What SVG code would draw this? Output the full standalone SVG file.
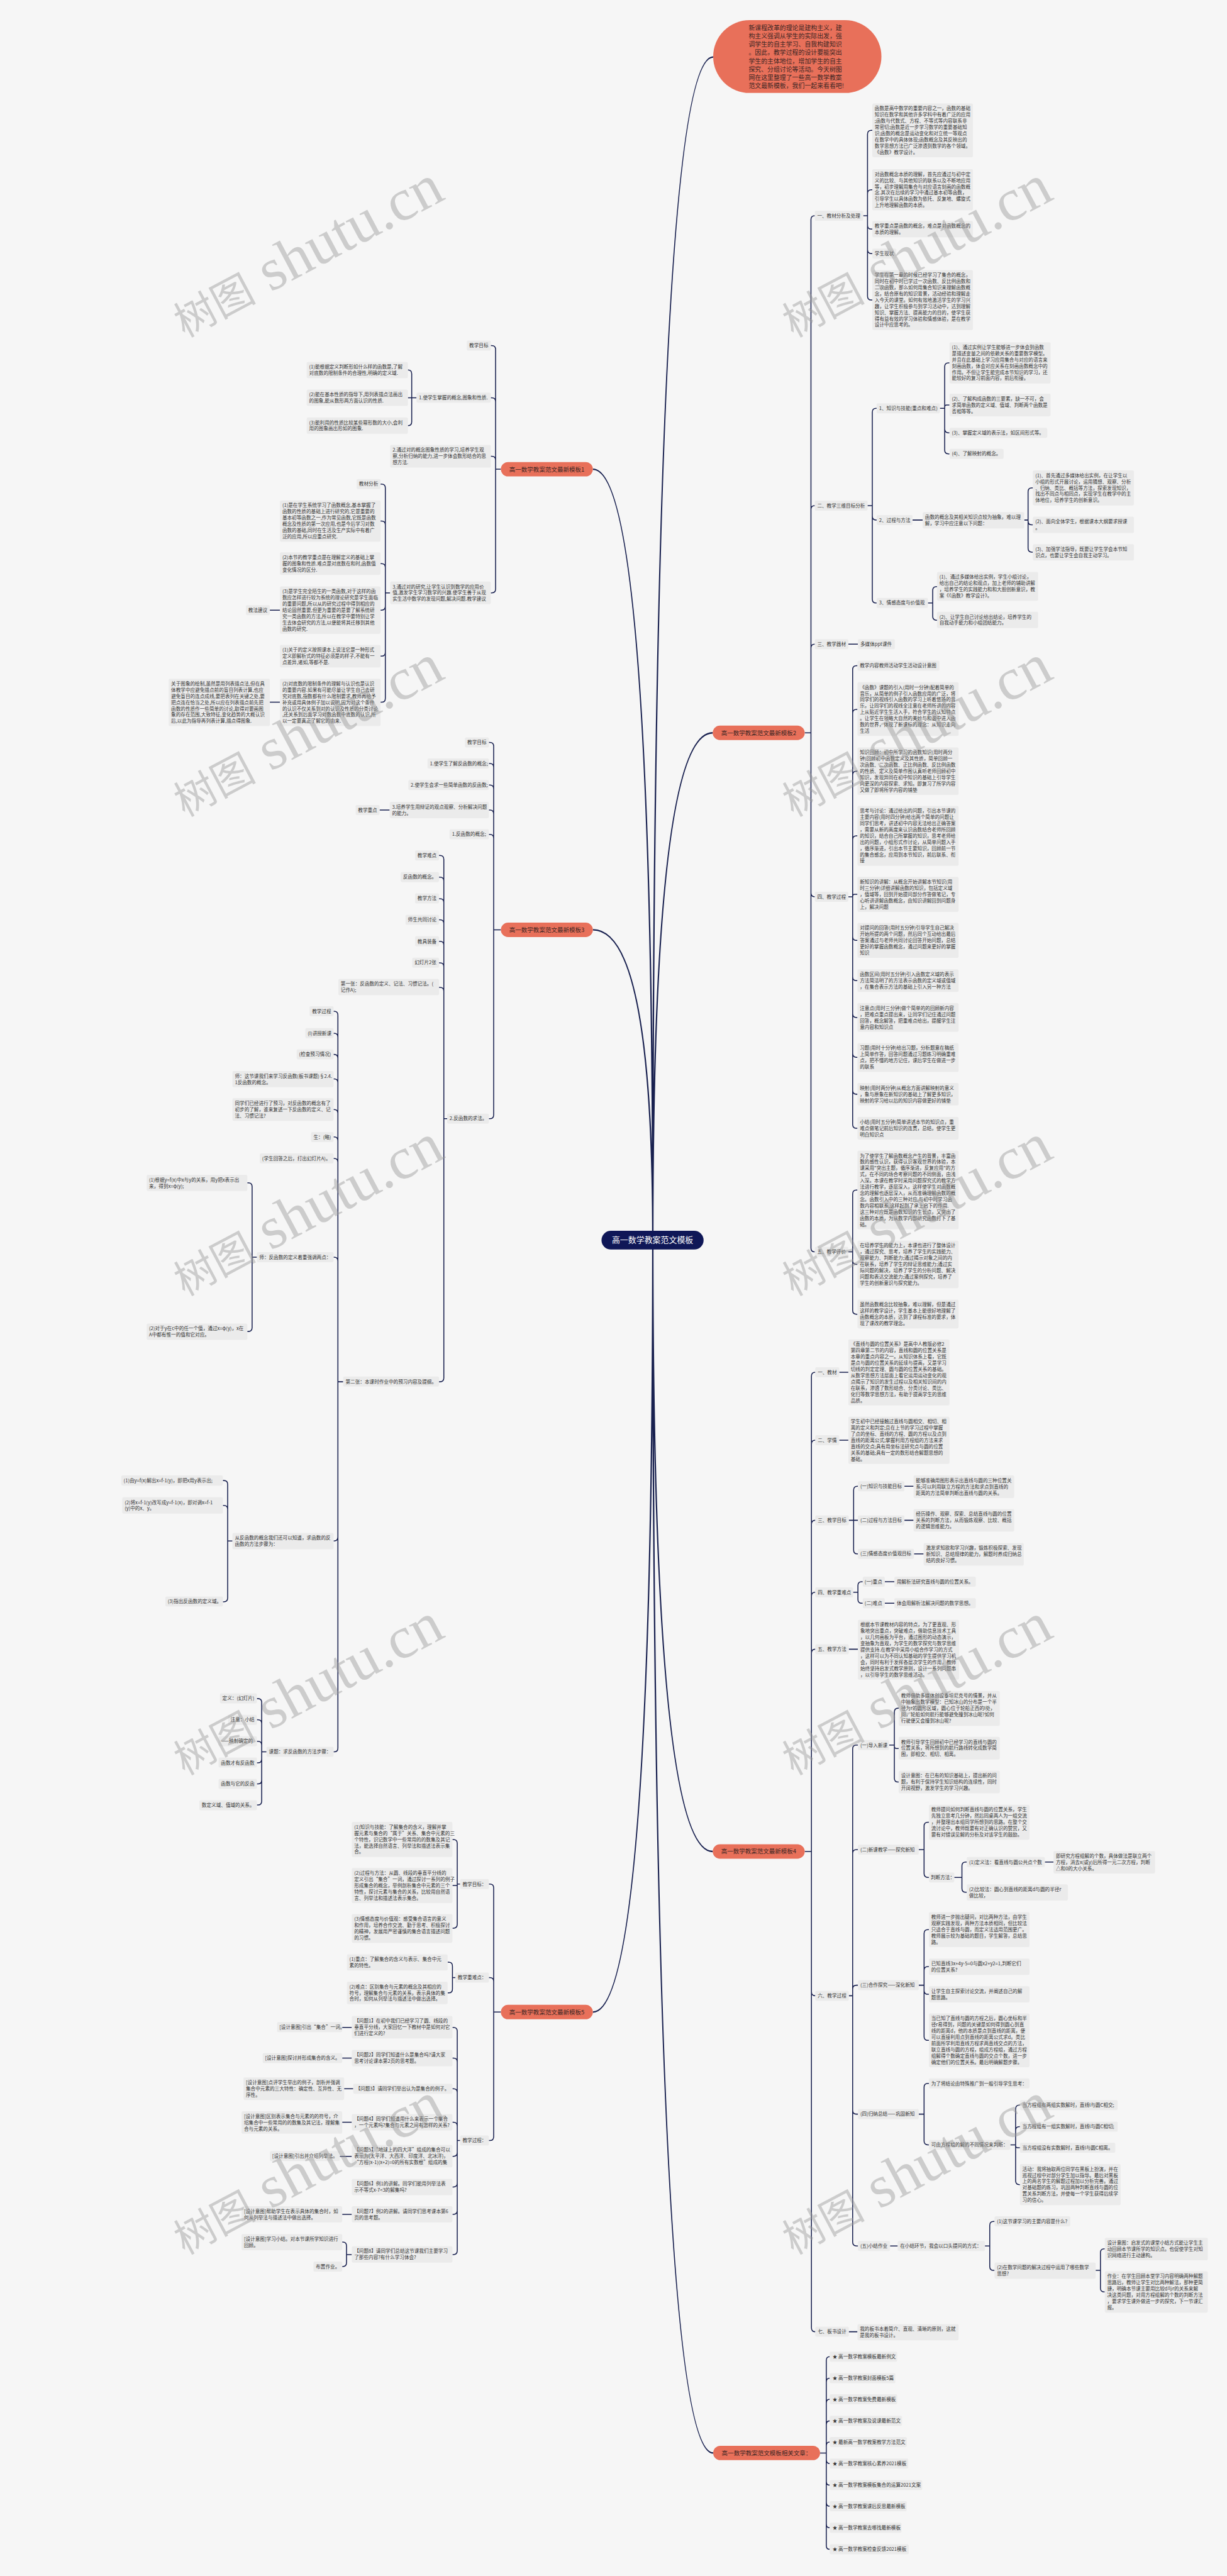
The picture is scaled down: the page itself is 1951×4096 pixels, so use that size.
<svg xmlns="http://www.w3.org/2000/svg" width="1951" height="4096" viewBox="0 0 1951 4096">
<defs><style>
.t{font-family:"Noto Sans CJK SC","Liberation Sans",sans-serif;font-size:10px;fill:#333}
.b{fill:#ebebeb;rx:3px}
.c{fill:none;stroke:#18204f;stroke-width:2}
.m{fill:none;stroke:#18204f;stroke-width:3}
.p{fill:#e8705a}
.pt{font-family:"Noto Sans CJK SC","Liberation Sans",sans-serif;font-size:12.5px;fill:#3b2624;text-anchor:middle}
.w{font-family:"Liberation Serif","Noto Sans CJK SC",serif;fill:#9a9a9a;opacity:0.45}
</style></defs>
<rect width="1951" height="4096" fill="#f6f6f6"/>
<g transform="scale(0.7621)">
<g id="connectors">
<path class="m" d="M1362,2587Q1362,119 1488,119M1362,2587Q1362,979 1237,979M1362,2587Q1362,1529 1487,1529M1362,2587Q1362,1940 1237,1940M1362,2587Q1362,3863 1487,3863M1362,2587Q1362,4198 1237,4198M1362,2587Q1362,5118 1488,5118"/>
<path class="c" d="M1679,1529H1692M1692,1529V458Q1692,450 1700,450M1692,1529V1063Q1692,1055 1700,1055M1692,1529V1352Q1692,1344 1700,1344M1692,1529V1863Q1692,1871 1700,1871M1692,1529V2604Q1692,2612 1700,2612"/>
<path class="c" d="M1801,450H1810M1810,450V280Q1810,272 1818,272H1820M1810,450V404Q1810,396 1818,396H1820M1810,450V470Q1810,478 1818,478H1820M1810,450V521Q1810,529 1818,529H1820M1810,450V618Q1810,626 1818,626H1820"/>
<path class="c" d="M1810,1055H1820M1820,1055V860Q1820,852 1828,852H1829M1820,1055V1077Q1820,1085 1828,1085H1829M1820,1055V1250Q1820,1258 1828,1258H1829"/>
<path class="c" d="M1961,852H1971M1971,852V765Q1971,757 1979,757H1981M1971,852V849Q1971,845 1975,845H1981M1971,852V895Q1971,903 1979,903H1981M1971,852V939Q1971,947 1979,947H1981"/>
<path class="c" d="M1904,1085H1925M2137,1085H2145M2145,1085V1026Q2145,1018 2153,1018H2155M2145,1085V1087Q2145,1095 2153,1095H2155M2145,1085V1144Q2145,1152 2153,1152H2155"/>
<path class="c" d="M1936,1258H1946M1946,1258V1232Q1946,1224 1954,1224H1955M1946,1258V1286Q1946,1294 1954,1294H1955M1770,1344H1790"/>
<path class="c" d="M1770,1871H1779M1779,1871V1397Q1779,1389 1787,1389H1789M1779,1871V1488Q1779,1480 1787,1480H1789M1779,1871V1617Q1779,1609 1787,1609H1789M1779,1871V1752Q1779,1744 1787,1744H1789M1779,1871V1870Q1779,1866 1783,1866H1789M1779,1871V1954Q1779,1962 1787,1962H1789M1779,1871V2038Q1779,2046 1787,2046H1789M1779,1871V2115Q1779,2123 1787,2123H1789M1779,1871V2198Q1779,2206 1787,2206H1789M1779,1871V2275Q1779,2283 1787,2283H1789M1779,1871V2346Q1779,2354 1787,2354H1789"/>
<path class="c" d="M1770,2612H1779M1779,2612V2491Q1779,2483 1787,2483H1789M1779,2612V2630Q1779,2638 1787,2638H1789M1779,2612V2734Q1779,2742 1787,2742H1789"/>
<path class="c" d="M1679,3863H1693M1693,3863V2871Q1693,2863 1701,2863M1693,3863V3013Q1693,3005 1701,3005M1693,3863V3180Q1693,3172 1701,3172M1693,3863V3330Q1693,3322 1701,3322M1693,3863V3449Q1693,3441 1701,3441M1693,3863V4156Q1693,4164 1701,4164M1693,3863V4857Q1693,4865 1701,4865"/>
<path class="c" d="M1751,2863H1770M1751,3005H1770M1771,3172H1790M1781,3172V3109Q1781,3101 1789,3101H1790M1781,3172V3234Q1781,3242 1789,3242H1790M1887,3101H1906M1887,3172H1906M1907,3242H1927"/>
<path class="c" d="M1780,3322H1790M1790,3322V3308Q1790,3300 1798,3300H1800M1790,3322V3337Q1790,3345 1798,3345H1800M1846,3300H1866M1846,3345H1866M1771,3441H1790"/>
<path class="c" d="M1771,4164H1779M1779,4164V3649Q1779,3641 1787,3641H1790M1779,4164V3867Q1779,3859 1787,3859H1790M1779,4164V4150Q1779,4142 1787,4142H1790M1779,4164V4403Q1779,4411 1787,4411H1790M1779,4164V4678Q1779,4686 1787,4686H1790"/>
<path class="c" d="M1855,3641H1866M1866,3641V3572Q1866,3564 1874,3564H1875M1866,3641V3644Q1866,3648 1870,3648H1875M1866,3641V3710Q1866,3718 1874,3718H1875"/>
<path class="c" d="M1917,3859H1928M1928,3859V3810Q1928,3802 1936,3802H1938M1928,3859V3909Q1928,3917 1936,3917H1938M1991,3917H2007M2007,3917V3893Q2007,3885 2015,3885H2017M2007,3917V3940Q2007,3948 2015,3948H2017M2180,3885H2198"/>
<path class="c" d="M1917,4142H1928M1928,4142V4034Q1928,4026 1936,4026H1938M1928,4142V4111Q1928,4103 1936,4103H1938M1928,4142V4153Q1928,4161 1936,4161H1938M1928,4142V4249Q1928,4257 1936,4257H1938"/>
<path class="c" d="M1917,4411H1928M1928,4411V4355Q1928,4347 1936,4347H1938M1928,4411V4467Q1928,4475 1936,4475H1938M2108,4475H2119M2119,4475V4400Q2119,4392 2127,4392H2128M2119,4475V4445Q2119,4437 2127,4437H2128M2119,4475V4477Q2119,4481 2123,4481H2128M2119,4475V4550Q2119,4558 2127,4558H2128"/>
<path class="c" d="M1857,4686H1873M2055,4686H2065M2065,4686V4643Q2065,4635 2073,4635H2075M2065,4686V4729Q2065,4737 2073,4737H2075M2286,4737H2296M2296,4737V4700Q2296,4692 2304,4692H2305M2296,4737V4774Q2296,4782 2304,4782H2305M1771,4865H1789"/>
<path class="c" d="M1711,5118H1724M1724,5118V4925Q1724,4917 1731,4917M1724,5118V4970Q1724,4962 1731,4962M1724,5118V5014Q1724,5006 1731,5006M1724,5118V5059Q1724,5051 1731,5051M1724,5118V5103Q1724,5095 1731,5095M1724,5118V5132Q1724,5140 1731,5140M1724,5118V5177Q1724,5185 1731,5185M1724,5118V5221Q1724,5229 1731,5229M1724,5118V5266Q1724,5274 1731,5274M1724,5118V5311Q1724,5319 1731,5319"/>
<path class="c" d="M1045,979H1034M1034,979V729Q1034,721 1026,721H1024M1034,979V838Q1034,830 1026,830H1024M1034,979V960Q1034,952 1026,952H1024M1034,979V1229Q1034,1237 1026,1237H1024M869,830H851M859,830V780Q859,772 851,772M859,830V880Q859,888 851,888"/>
<path class="c" d="M814,1237H804M804,1237V1018Q804,1010 796,1010H794M804,1237V1095Q804,1087 796,1087H794M804,1237V1184Q804,1176 796,1176H794M804,1237V1265Q804,1273 796,1273H794M804,1237V1361Q804,1369 796,1369H794M804,1237V1457Q804,1465 796,1465H794M584,1273H563M584,1465H563"/>
<path class="c" d="M1045,1940H1030M1030,1940V1557Q1030,1549 1022,1549H1020M1030,1940V1601Q1030,1593 1022,1593H1020M1030,1940V1646Q1030,1638 1022,1638H1020M1030,1940V1698Q1030,1690 1022,1690H1020M1030,1940V1749Q1030,1741 1022,1741H1020M1030,1940V2326Q1030,2334 1022,2334H1020M813,1690H792"/>
<path class="c" d="M933,2334H926M926,2334V1793Q926,1785 918,1785H916M926,2334V1838Q926,1830 918,1830H916M926,2334V1883Q926,1875 918,1875H916M926,2334V1927Q926,1919 918,1919H916M926,2334V1972Q926,1964 918,1964H916M926,2334V2017Q926,2009 918,2009H916M926,2334V2068Q926,2060 918,2060H916M926,2334V2875Q926,2883 918,2883H916"/>
<path class="c" d="M716,2883H705M705,2883V2118Q705,2110 697,2110H696M705,2883V2164Q705,2156 697,2156H696M705,2883V2208Q705,2200 697,2200H696M705,2883V2259Q705,2251 697,2251H696M705,2883V2323Q705,2315 697,2315H696M705,2883V2380Q705,2372 697,2372H696M705,2883V2425Q705,2417 697,2417H696M705,2883V2631Q705,2623 697,2623H696M705,2883V3207Q705,3215 697,3215H696M705,2883V3647Q705,3655 697,3655H696"/>
<path class="c" d="M536,2623H526M526,2623V2476Q526,2468 518,2468H516M526,2623V2770Q526,2778 518,2778H516M485,3215H475M475,3215V3097Q475,3089 467,3089H465M475,3215V3149Q475,3141 467,3141H465M475,3215V3334Q475,3342 467,3342H465"/>
<path class="c" d="M556,3655H546M546,3655V3552Q546,3544 538,3544H536M546,3655V3596Q546,3588 538,3588H536M546,3655V3641Q546,3633 538,3633H536M546,3655V3670Q546,3678 538,3678H536M546,3655V3714Q546,3722 538,3722H536M546,3655V3758Q546,3766 538,3766H536"/>
<path class="c" d="M1045,4198H1030M1030,4198V3939Q1030,3931 1022,3931H1020M1030,4198V4134Q1030,4126 1022,4126H1020M1030,4198V4458Q1030,4466 1022,4466H1020M960,3931H954M954,3931V3846Q954,3838 946,3838H944M954,3931V3934H944M954,3931V4015Q954,4023 946,4023H944M950,4126H944M944,4126V4102Q944,4094 936,4094H934M944,4126V4150Q944,4158 936,4158H934"/>
<path class="c" d="M960,4466H954M954,4466V4238Q954,4230 946,4230H944M954,4466V4302Q954,4294 946,4294H944M954,4466V4366Q954,4358 946,4358H944M954,4466V4436Q954,4428 946,4428H944M954,4466V4491Q954,4499 946,4499H944M954,4466V4555Q954,4563 946,4563H944M954,4466V4612Q954,4620 946,4620H944M954,4466V4696Q954,4704 946,4704H944M734,4230H714M734,4294H714M737,4358H718M734,4428H714M734,4499H709M734,4620H714M734,4704H723M723,4704V4686Q723,4678 715,4678H714M723,4704V4721Q723,4729 715,4729H714"/>
</g>

<g id="center"><rect x="1255" y="2568" width="213" height="39" rx="19.5" fill="#0f1757"/><text x="1361.5" y="2593" font-family="Noto Sans CJK SC, sans-serif" font-size="17" fill="#fff" text-anchor="middle">高一数学教案范文模板</text></g>

<g id="bubble"><rect x="1488" y="42" width="351" height="152" rx="76" class="p"/><text font-family="Noto Sans CJK SC, sans-serif" font-size="13" fill="#3b2624" y="62.4"><tspan x="1562">新课程改革的理论是建构主义，建</tspan><tspan x="1562" dy="17.4">构主义强调从学生的实际出发，强</tspan><tspan x="1562" dy="17.4">调学生的自主学习、自我构建知识</tspan><tspan x="1562" dy="17.4">。因此，教学过程的设计要能突出</tspan><tspan x="1562" dy="17.4">学生的主体地位，增加学生的自主</tspan><tspan x="1562" dy="17.4">探究、分组讨论等活动。今天树图</tspan><tspan x="1562" dy="17.4">网在这里整理了一些高一数学教案</tspan><tspan x="1562" dy="17.4">范文最新模板，我们一起来看看吧!</tspan></text></g>

<g id="branch2"><rect class="p" x="1487" y="1514" width="192" height="30" rx="15"/><text class="pt" x="1583" y="1533.5">高一数学教案范文最新模板2</text></g>
<g id="A1"><rect class="b" x="1700" y="439.5" width="101" height="21"/><text class="t" x="1705" y="453.6">一、教材分析及处理</text></g>
<g id="a1"><rect class="b" x="1820" y="216" width="210" height="112"/><text class="t" y="230.1"><tspan x="1825">函数是高中数学的重要内容之一，函数的基础</tspan><tspan x="1825" dy="13">知识在数学和其他许多学科中有着广泛的应用</tspan><tspan x="1825" dy="13">;函数与代数式、方程、不等式等内容联系非</tspan><tspan x="1825" dy="13">常密切;函数是近一步学习数学的重要基础知</tspan><tspan x="1825" dy="13">识;函数的概念是运动变化和对立统一等观点</tspan><tspan x="1825" dy="13">在数学中的具体体现;函数概念及其反映出的</tspan><tspan x="1825" dy="13">数学思想方法已广泛渗透到数学的各个领域。</tspan><tspan x="1825" dy="13">《函数》教学设计。</tspan></text></g>
<g id="a2"><rect class="b" x="1820" y="353" width="210" height="86"/><text class="t" y="367.1"><tspan x="1825">对函数概念本质的理解，首先应通过与初中定</tspan><tspan x="1825" dy="13">义的比较、与其他知识的联系以及不断地应用</tspan><tspan x="1825" dy="13">等，初步理解用集合与对应语言刻画的函数概</tspan><tspan x="1825" dy="13">念.其次在后续的学习中通过基本初等函数，</tspan><tspan x="1825" dy="13">引导学生以具体函数为依托、反复地、螺旋式</tspan><tspan x="1825" dy="13">上升地理解函数的本质。</tspan></text></g>
<g id="a3"><rect class="b" x="1820" y="461" width="210" height="34"/><text class="t" y="475.1"><tspan x="1825">教学重点是函数的概念，难点是对函数概念的</tspan><tspan x="1825" dy="13">本质的理解。</tspan></text></g>
<g id="a4"><rect class="b" x="1820" y="518.5" width="50" height="21"/><text class="t" x="1825" y="532.6">学生现状</text></g>
<g id="a5"><rect class="b" x="1820" y="563.5" width="210" height="125"/><text class="t" y="577.6"><tspan x="1825">学生在第一章的时候已经学习了集合的概念，</tspan><tspan x="1825" dy="13">同时在初中时已学过一次函数、反比例函数和</tspan><tspan x="1825" dy="13">二次函数，那么如何用集合知识来理解函数概</tspan><tspan x="1825" dy="13">念，结合原有的知识背景，活动经验和理解走</tspan><tspan x="1825" dy="13">入今天的课堂。如何有效地激活学生的学习兴</tspan><tspan x="1825" dy="13">趣，让学生积极参与到学习活动中，达到理解</tspan><tspan x="1825" dy="13">知识、掌握方法、提高能力的目的，使学生获</tspan><tspan x="1825" dy="13">得有益有效的学习体验和情感体验，是在教学</tspan><tspan x="1825" dy="13">设计中应思考的。</tspan></text></g>
<g id="A2"><rect class="b" x="1700" y="1044.5" width="110" height="21"/><text class="t" x="1705" y="1058.6">二、教学三维目标分析</text></g>
<g id="b1"><rect class="b" x="1829" y="841.5" width="132" height="21"/><text class="t" x="1834" y="855.6">1、知识与技能(重点和难点)</text></g>
<g id="b1a"><rect class="b" x="1981" y="714" width="211" height="86"/><text class="t" y="728.1"><tspan x="1986">(1)、通过实例让学生能够进一步体会到函数</tspan><tspan x="1986" dy="13">是描述变量之间的依赖关系的重要数学模型。</tspan><tspan x="1986" dy="13">并且在此基础上学习应用集合与对应的语言来</tspan><tspan x="1986" dy="13">刻画函数，体会对应关系在刻画函数概念中的</tspan><tspan x="1986" dy="13">作用。不但让学生能完成本节知识的学习，还</tspan><tspan x="1986" dy="13">能较好的复习前面内容，前后衔接。</tspan></text></g>
<g id="b1b"><rect class="b" x="1981" y="821.5" width="211" height="47"/><text class="t" y="835.6"><tspan x="1986">(2)、了解构成函数的三要素，缺一不可，会</tspan><tspan x="1986" dy="13">求简单函数的定义域、值域、判断两个函数是</tspan><tspan x="1986" dy="13">否相等等。</tspan></text></g>
<g id="b1c"><rect class="b" x="1981" y="892.5" width="204" height="21"/><text class="t" x="1986" y="906.6">(3)、掌握定义域的表示法，如区间形式等。</text></g>
<g id="b1d"><rect class="b" x="1981" y="936.5" width="113" height="21"/><text class="t" x="1986" y="950.6">(4)、了解映射的概念。</text></g>
<g id="b2"><rect class="b" x="1829" y="1074.5" width="75" height="21"/><text class="t" x="1834" y="1088.6">2、过程与方法</text></g>
<g id="b2x"><rect class="b" x="1925" y="1068.5" width="212" height="34"/><text class="t" y="1082.6"><tspan x="1930">函数的概念及其相关知识点较为抽象，难以理</tspan><tspan x="1930" dy="13">解，学习中应注意以下问题：</tspan></text></g>
<g id="b2a"><rect class="b" x="2155" y="981.5" width="211" height="73"/><text class="t" y="995.6"><tspan x="2160">(1)、首先通过多媒体给出实例，在让学生以</tspan><tspan x="2160" dy="13">小组的形式开展讨论，运用猜想、观察、分析</tspan><tspan x="2160" dy="13">、归纳、类比、概括等方法，探索发现知识，</tspan><tspan x="2160" dy="13">找出不同点与相同点，实现学生在教学中的主</tspan><tspan x="2160" dy="13">体地位，培养学生的创新意识。</tspan></text></g>
<g id="b2b"><rect class="b" x="2155" y="1078" width="211" height="34"/><text class="t" y="1092.1"><tspan x="2160">(2)、面向全体学生，根据课本大纲要求授课</tspan><tspan x="2160" dy="13">。</tspan></text></g>
<g id="b2c"><rect class="b" x="2155" y="1135.5" width="211" height="34"/><text class="t" y="1149.6"><tspan x="2160">(3)、加强学法指导，既要让学生学会本节知</tspan><tspan x="2160" dy="13">识点，也要让学生会自我主动学习。</tspan></text></g>
<g id="b3"><rect class="b" x="1829" y="1247.5" width="107" height="21"/><text class="t" x="1834" y="1261.6">3、情感态度与价值观</text></g>
<g id="b3a"><rect class="b" x="1955" y="1193.5" width="211" height="60"/><text class="t" y="1207.6"><tspan x="1960">(1)、通过多媒体给出实例，学生小组讨论，</tspan><tspan x="1960" dy="13">给出自己的结论和观点，加上老师的辅助讲解</tspan><tspan x="1960" dy="13">，培养学生的实践能力和和大胆创新意识，教</tspan><tspan x="1960" dy="13">案《《函数》教学设计》。</tspan></text></g>
<g id="b3b"><rect class="b" x="1955" y="1276.5" width="211" height="34"/><text class="t" y="1290.6"><tspan x="1960">(2)、让学生自己讨论给出结论，培养学生的</tspan><tspan x="1960" dy="13">自我动手能力和小组团结能力。</tspan></text></g>
<g id="A3"><rect class="b" x="1700" y="1333.5" width="70" height="21"/><text class="t" x="1705" y="1347.6">三、教学器材</text></g>
<g id="A3c"><rect class="b" x="1790" y="1333.5" width="77" height="21"/><text class="t" x="1795" y="1347.6">多媒体ppt课件</text></g>
<g id="A4"><rect class="b" x="1700" y="1860.5" width="70" height="21"/><text class="t" x="1705" y="1874.6">四、教学过程</text></g>
<g id="c1"><rect class="b" x="1789" y="1378.5" width="171" height="21"/><text class="t" x="1794" y="1392.6">教学内容教师活动学生活动设计意图</text></g>
<g id="c2"><rect class="b" x="1789" y="1423.5" width="211" height="112"/><text class="t" y="1437.6"><tspan x="1794">《函数》课题的引入(用时一分钟)配着简单的</tspan><tspan x="1794" dy="13">音乐，从简单的例子引入函数应用的广泛，将</tspan><tspan x="1794" dy="13">同学们的视线引入函数的学习上听着悠扬的音</tspan><tspan x="1794" dy="13">乐，让同学们的视线全注意在老师所讲的内容</tspan><tspan x="1794" dy="13">上从贴近学生生活入手，符合学生的认知特点</tspan><tspan x="1794" dy="13">。让学生在领略大自然的美妙与和谐中进入函</tspan><tspan x="1794" dy="13">数的世界，体现了新课标的理念：从知识走向</tspan><tspan x="1794" dy="13">生活</tspan></text></g>
<g id="c3"><rect class="b" x="1789" y="1559.5" width="211" height="99"/><text class="t" y="1573.6"><tspan x="1794">知识回顾：初中所学习的函数知识(用时两分</tspan><tspan x="1794" dy="13">钟)回顾初中函数定义及其性质，简单回顾一</tspan><tspan x="1794" dy="13">次函数、二次函数、正比例函数、反比例函数</tspan><tspan x="1794" dy="13">的性质、定义及简单作图认真听老师回顾初中</tspan><tspan x="1794" dy="13">知识，发现异同在初中知识的基础上引导学生</tspan><tspan x="1794" dy="13">向更深的内容探索、求知。即复习了所学内容</tspan><tspan x="1794" dy="13">又做了即将所学内容的铺垫</tspan></text></g>
<g id="c4"><rect class="b" x="1789" y="1681.5" width="211" height="125"/><text class="t" y="1695.6"><tspan x="1794">思考与讨论：通过给出的问题，引出本节课的</tspan><tspan x="1794" dy="13">主要内容(用时四分钟)给出两个简单的问题让</tspan><tspan x="1794" dy="13">同学们思考，讲述初中内容无法给出正确答案</tspan><tspan x="1794" dy="13">，需要从新的高度来认识函数结合老师所回顾</tspan><tspan x="1794" dy="13">的知识，结合自己所掌握的知识，思考老师给</tspan><tspan x="1794" dy="13">出的问题，小组形式作讨论，从简单问题入手</tspan><tspan x="1794" dy="13">，循序渐进，引出本节主要知识，回顾前一节</tspan><tspan x="1794" dy="13">的集合感念，应用到本节知识，前后联系、衔</tspan><tspan x="1794" dy="13">接</tspan></text></g>
<g id="c5"><rect class="b" x="1789" y="1829.5" width="211" height="73"/><text class="t" y="1843.6"><tspan x="1794">新知识的讲解：从概念开始讲解本节知识(用</tspan><tspan x="1794" dy="13">时三分钟)详细讲解函数的知识，包括定义域</tspan><tspan x="1794" dy="13">，值域等，回到开始提问部分作答做笔记，专</tspan><tspan x="1794" dy="13">心听讲讲解函数概念，由知识讲解回到问题身</tspan><tspan x="1794" dy="13">上，解决问题</tspan></text></g>
<g id="c6"><rect class="b" x="1789" y="1925.5" width="211" height="73"/><text class="t" y="1939.6"><tspan x="1794">对提问的回答(用时五分钟)引导学生自己解决</tspan><tspan x="1794" dy="13">开始所提的两个问题，然后同个互动给出最后</tspan><tspan x="1794" dy="13">答案通过与老师共同讨论回答开始问题，总结</tspan><tspan x="1794" dy="13">更好的掌握函数概念，通过问题来更好的掌握</tspan><tspan x="1794" dy="13">知识</tspan></text></g>
<g id="c7"><rect class="b" x="1789" y="2022.5" width="211" height="47"/><text class="t" y="2036.6"><tspan x="1794">函数区间(用时五分钟)引入函数定义域的表示</tspan><tspan x="1794" dy="13">方法简洁明了的方法表示函数的定义域或值域</tspan><tspan x="1794" dy="13">，在集合表示方法的基础上引入另一种方法</tspan></text></g>
<g id="c8"><rect class="b" x="1789" y="2093" width="211" height="60"/><text class="t" y="2107.1"><tspan x="1794">注意点(用时三分钟)做个简单的的回顾新内容</tspan><tspan x="1794" dy="13">，把难点重点提出来，让同学们记住通过问题</tspan><tspan x="1794" dy="13">回答，概念解答，把重难点给出，提醒学生注</tspan><tspan x="1794" dy="13">意内容和知识点</tspan></text></g>
<g id="c9"><rect class="b" x="1789" y="2176.5" width="211" height="60"/><text class="t" y="2190.6"><tspan x="1794">习题(用时十分钟)给出习题，分析题意在稿纸</tspan><tspan x="1794" dy="13">上简单作答，回答问题通过习题练习明确重难</tspan><tspan x="1794" dy="13">点，把不懂的地方记住，课后学生在做进一步</tspan><tspan x="1794" dy="13">的联系</tspan></text></g>
<g id="c10"><rect class="b" x="1789" y="2259.5" width="211" height="47"/><text class="t" y="2273.6"><tspan x="1794">映射(用时两分钟)从概念方面讲解映射的意义</tspan><tspan x="1794" dy="13">，象与原象在新知识的基础上了解更多知识，</tspan><tspan x="1794" dy="13">映射的学习给以后的知识内容做更好的铺垫</tspan></text></g>
<g id="c11"><rect class="b" x="1789" y="2330.5" width="211" height="47"/><text class="t" y="2344.6"><tspan x="1794">小结(用时五分钟)简单讲述本节的知识点，重</tspan><tspan x="1794" dy="13">难点做笔记前后知识的连贯，总结，使学生更</tspan><tspan x="1794" dy="13">明白知识点</tspan></text></g>
<g id="A5"><rect class="b" x="1700" y="2601.5" width="70" height="21"/><text class="t" x="1705" y="2615.6">五、教学评价</text></g>
<g id="d1"><rect class="b" x="1789" y="2401" width="211" height="164"/><text class="t" y="2415.1"><tspan x="1794">为了使学生了解函数概念产生的背景，丰富函</tspan><tspan x="1794" dy="13">数的感性认识，获得认识客观世界的体验，本</tspan><tspan x="1794" dy="13">课采用"突出主题，循序渐进，反复应用"的方</tspan><tspan x="1794" dy="13">式，在不同的场合考察问题的不同侧面，由浅</tspan><tspan x="1794" dy="13">入深。本课在教学时采用问题探究式的教学方</tspan><tspan x="1794" dy="13">法进行教学，逐层深入，这样使学生对函数概</tspan><tspan x="1794" dy="13">念的理解也逐层深入，从而准确理解函数的概</tspan><tspan x="1794" dy="13">念。函数引入中的三种对应,与初中时学习函</tspan><tspan x="1794" dy="13">数内容相联系,这样起到了承上启下的作用.</tspan><tspan x="1794" dy="13">这三种对应既是函数知识的生长点，又突出了</tspan><tspan x="1794" dy="13">函数的本质，为从数学内部研究函数打下了基</tspan><tspan x="1794" dy="13">础。</tspan></text></g>
<g id="d2"><rect class="b" x="1789" y="2588.5" width="211" height="99"/><text class="t" y="2602.6"><tspan x="1794">在培养学生的能力上，本课也进行了整体设计</tspan><tspan x="1794" dy="13">，通过探究、思考，培养了学生的实践能力、</tspan><tspan x="1794" dy="13">观察能力、判断能力;通过揭示对象之间的内</tspan><tspan x="1794" dy="13">在联系，培养了学生的辩证思维能力;通过实</tspan><tspan x="1794" dy="13">际问题的解决，培养了学生的分析问题、解决</tspan><tspan x="1794" dy="13">问题和表达交流能力;通过案例探究，培养了</tspan><tspan x="1794" dy="13">学生的创新意识与探究能力。</tspan></text></g>
<g id="d3"><rect class="b" x="1789" y="2711.5" width="211" height="60"/><text class="t" y="2725.6"><tspan x="1794">虽然函数概念比较抽象，难以理解，但是通过</tspan><tspan x="1794" dy="13">这样的教学设计，学生基本上能很好地理解了</tspan><tspan x="1794" dy="13">函数概念的本质，达到了课程标准的要求，体</tspan><tspan x="1794" dy="13">现了课改的教学理念。</tspan></text></g>

<g id="branch4"><rect class="p" x="1487" y="3848" width="192" height="30" rx="15"/><text class="pt" x="1583" y="3867.5">高一数学教案范文最新模板4</text></g>
<g id="E1"><rect class="b" x="1701" y="2852.5" width="50" height="21"/><text class="t" x="1706" y="2866.6">一、教材</text></g>
<g id="e1"><rect class="b" x="1770" y="2794.5" width="211" height="138"/><text class="t" y="2808.6"><tspan x="1775">《直线与圆的位置关系》是高中人教版必修2</tspan><tspan x="1775" dy="13">第四章第二节的内容，直线和圆的位置关系是</tspan><tspan x="1775" dy="13">本章的重点内容之一。从知识体系上看，它既</tspan><tspan x="1775" dy="13">是点与圆的位置关系的延续与提高，又是学习</tspan><tspan x="1775" dy="13">切线的判定定理、圆与圆的位置关系的基础。</tspan><tspan x="1775" dy="13">从数学思想方法层面上看它运用运动变化的观</tspan><tspan x="1775" dy="13">点揭示了知识的发生过程以及相关知识间的内</tspan><tspan x="1775" dy="13">在联系，渗透了数形结合、分类讨论、类比、</tspan><tspan x="1775" dy="13">化归等数学思想方法，有助于提高学生的思维</tspan><tspan x="1775" dy="13">品质。</tspan></text></g>
<g id="E2"><rect class="b" x="1701" y="2994.5" width="50" height="21"/><text class="t" x="1706" y="3008.6">二、学情</text></g>
<g id="e2"><rect class="b" x="1770" y="2955.5" width="211" height="99"/><text class="t" y="2969.6"><tspan x="1775">学生初中已经接触过直线与圆相交、相切、相</tspan><tspan x="1775" dy="13">离的定义和判定;且在上节的学习过程中掌握</tspan><tspan x="1775" dy="13">了点的坐标、直线的方程、圆的方程以及点到</tspan><tspan x="1775" dy="13">直线的距离公式;掌握利用方程组的方法来求</tspan><tspan x="1775" dy="13">直线的交点;具有用坐标法研究点与圆的位置</tspan><tspan x="1775" dy="13">关系的基础;具有一定的数形结合解题思想的</tspan><tspan x="1775" dy="13">基础。</tspan></text></g>
<g id="E3"><rect class="b" x="1701" y="3161.5" width="70" height="21"/><text class="t" x="1706" y="3175.6">三、教学目标</text></g>
<g id="E3a"><rect class="b" x="1790" y="3090.5" width="97" height="21"/><text class="t" x="1795" y="3104.6">(一)知识与技能目标</text></g>
<g id="E3ac"><rect class="b" x="1906" y="3078.5" width="210" height="47"/><text class="t" y="3092.6"><tspan x="1911">能够准确用图形表示出直线与圆的三种位置关</tspan><tspan x="1911" dy="13">系;可以利用联立方程的方法和求点到直线的</tspan><tspan x="1911" dy="13">距离的方法简单判断出直线与圆的关系。</tspan></text></g>
<g id="E3b"><rect class="b" x="1790" y="3161.5" width="97" height="21"/><text class="t" x="1795" y="3175.6">(二)过程与方法目标</text></g>
<g id="E3bc"><rect class="b" x="1906" y="3148.5" width="210" height="47"/><text class="t" y="3162.6"><tspan x="1911">经历操作、观察、探索、总结直线与圆的位置</tspan><tspan x="1911" dy="13">关系的判断方法，从而锻炼观察、比较、概括</tspan><tspan x="1911" dy="13">的逻辑思维能力。</tspan></text></g>
<g id="E3c"><rect class="b" x="1790" y="3231.5" width="117" height="21"/><text class="t" x="1795" y="3245.6">(三)情感态度价值观目标</text></g>
<g id="E3cc"><rect class="b" x="1927" y="3219.5" width="209" height="47"/><text class="t" y="3233.6"><tspan x="1932">激发求知欲和学习兴趣，锻炼积极探索、发现</tspan><tspan x="1932" dy="13">新知识、总结规律的能力，解题时养成归纳总</tspan><tspan x="1932" dy="13">结的良好习惯。</tspan></text></g>
<g id="E4"><rect class="b" x="1701" y="3312" width="79" height="21"/><text class="t" x="1706" y="3326.1">四、教学重难点</text></g>
<g id="E4a"><rect class="b" x="1800" y="3289.5" width="46" height="21"/><text class="t" x="1804" y="3303.6">(一)重点</text></g>
<g id="E4ac"><rect class="b" x="1866" y="3289.5" width="170" height="21"/><text class="t" x="1871" y="3303.6">用解析法研究直线与圆的位置关系。</text></g>
<g id="E4b"><rect class="b" x="1800" y="3334.5" width="46" height="21"/><text class="t" x="1804" y="3348.6">(二)难点</text></g>
<g id="E4bc"><rect class="b" x="1866" y="3334.5" width="170" height="21"/><text class="t" x="1871" y="3348.6">体会用解析法解决问题的数学思想。</text></g>
<g id="E5"><rect class="b" x="1701" y="3430.5" width="70" height="21"/><text class="t" x="1706" y="3444.6">五、教学方法</text></g>
<g id="e5"><rect class="b" x="1790" y="3379.5" width="211" height="125"/><text class="t" y="3393.6"><tspan x="1795">根据本节课教材内容的特点，为了更直观、形</tspan><tspan x="1795" dy="13">象地突出重点，突破难点，借助信息技术工具</tspan><tspan x="1795" dy="13">，以几何画板为平台，通过图形的动态演示，</tspan><tspan x="1795" dy="13">变抽象为直观，为学生的数学探究与数学思维</tspan><tspan x="1795" dy="13">提供支持.在教学中采用小组合作学习的方式</tspan><tspan x="1795" dy="13">，这样可以为不同认知基础的学生提供学习机</tspan><tspan x="1795" dy="13">会，同时有利于发挥各层次学生的作用，教师</tspan><tspan x="1795" dy="13">始终坚持启发式教学原则，设计一系列问题串</tspan><tspan x="1795" dy="13">，以引导学生的数学思维活动。</tspan></text></g>
<g id="E6"><rect class="b" x="1701" y="4153.5" width="70" height="21"/><text class="t" x="1706" y="4167.6">六、教学过程</text></g>
<g id="F1"><rect class="b" x="1790" y="3630.5" width="65" height="21"/><text class="t" x="1795" y="3644.6">(一)导入新课</text></g>
<g id="f1a"><rect class="b" x="1875" y="3528" width="211" height="73"/><text class="t" y="3542.1"><tspan x="1880">教师借助多媒体创设泰坦尼克号的情景，并从</tspan><tspan x="1880" dy="13">中抽象出数学模型：已知冰山的分布是一个半</tspan><tspan x="1880" dy="13">径为r的圆形区域，圆心位于轮船正西的l处，</tspan><tspan x="1880" dy="13">问，轮船如何航行能够避免撞到冰山呢?如何</tspan><tspan x="1880" dy="13">行驶便又会撞到冰山呢?</tspan></text></g>
<g id="f1b"><rect class="b" x="1875" y="3624" width="211" height="47"/><text class="t" y="3638"><tspan x="1880">教师引导学生回顾初中已经学习的直线与圆的</tspan><tspan x="1880" dy="13">位置关系，将所想到的航行路线转化成数学简</tspan><tspan x="1880" dy="13">图，即相交、相切、相离。</tspan></text></g>
<g id="f1c"><rect class="b" x="1875" y="3694.5" width="211" height="47"/><text class="t" y="3708.6"><tspan x="1880">设计意图：在已有的知识基础上，提出新的问</tspan><tspan x="1880" dy="13">题，有利于保持学生知识结构的连续性，同时</tspan><tspan x="1880" dy="13">开阔视野，激发学生的学习兴趣。</tspan></text></g>
<g id="F2"><rect class="b" x="1790" y="3848.5" width="127" height="21"/><text class="t" x="1795" y="3862.6">(二)新课教学——探究新知</text></g>
<g id="f2a"><rect class="b" x="1938" y="3765.5" width="210" height="73"/><text class="t" y="3779.6"><tspan x="1943">教师提问如何判断直线与圆的位置关系，学生</tspan><tspan x="1943" dy="13">先独立思考几分钟，然后同桌两人为一组交流</tspan><tspan x="1943" dy="13">，并整理出本组同学所想到的思路。在整个交</tspan><tspan x="1943" dy="13">流讨论中，教师既要有对正确认识的赞赏，又</tspan><tspan x="1943" dy="13">要有对错误见解的分析及对该学生的鼓励。</tspan></text></g>
<g id="f2b"><rect class="b" x="1938" y="3906.5" width="53" height="21"/><text class="t" x="1942" y="3920.6">判断方法：</text></g>
<g id="f2b1"><rect class="b" x="2017" y="3874.5" width="163" height="21"/><text class="t" x="2022" y="3888.6">(1)定义法：看直线与圆公共点个数</text></g>
<g id="f2b1c"><rect class="b" x="2198" y="3862" width="212" height="47"/><text class="t" y="3876.1"><tspan x="2203">即研究方程组解的个数，具体做法是联立两个</tspan><tspan x="2203" dy="13">方程，消去x(或y)后所得一元二次方程，判断</tspan><tspan x="2203" dy="13">△和0的大小关系。</tspan></text></g>
<g id="f2b2"><rect class="b" x="2017" y="3931.5" width="211" height="34"/><text class="t" y="3945.6"><tspan x="2022">(2)比较法：圆心到直线的距离d与圆的半径r</tspan><tspan x="2022" dy="13">做比较，</tspan></text></g>
<g id="F3"><rect class="b" x="1790" y="4131.5" width="127" height="21"/><text class="t" x="1795" y="4145.6">(三)合作探究——深化新知</text></g>
<g id="f3a"><rect class="b" x="1938" y="3989.5" width="210" height="73"/><text class="t" y="4003.6"><tspan x="1943">教师进一步抛出疑问，对比两种方法，由学生</tspan><tspan x="1943" dy="13">观察实践发现，两种方法本质相同，但比较法</tspan><tspan x="1943" dy="13">只适合于直线与圆，而定义法适用范围更广。</tspan><tspan x="1943" dy="13">教师展示较为基础的题目，学生解答，总结思</tspan><tspan x="1943" dy="13">路。</tspan></text></g>
<g id="f3b"><rect class="b" x="1938" y="4086.5" width="210" height="34"/><text class="t" y="4100.6"><tspan x="1943">已知直线3x+4y-5=0与圆x2+y2=1,判断它们</tspan><tspan x="1943" dy="13">的位置关系?</tspan></text></g>
<g id="f3c"><rect class="b" x="1938" y="4144" width="210" height="34"/><text class="t" y="4158.1"><tspan x="1943">让学生自主探索讨论交流，并阐述自己的解</tspan><tspan x="1943" dy="13">题思路。</tspan></text></g>
<g id="f3d"><rect class="b" x="1938" y="4201" width="210" height="112"/><text class="t" y="4215.1"><tspan x="1943">当已知了直线与圆的方程之后，圆心坐标和半</tspan><tspan x="1943" dy="13">径r易得到，问题的关键是如何得到圆心到直</tspan><tspan x="1943" dy="13">线的距离d，他的本质是点到直线的距离，便</tspan><tspan x="1943" dy="13">可以直接利用点到直线的距离公式求d。类比</tspan><tspan x="1943" dy="13">前面所学利用直线方程求两直线交点的方法，</tspan><tspan x="1943" dy="13">联立直线与圆的方程，组成方程组，通过方程</tspan><tspan x="1943" dy="13">组解得个数确定直线与圆的交点个数，进一步</tspan><tspan x="1943" dy="13">确定他们的位置关系。最后明确解题步骤。</tspan></text></g>
<g id="F4"><rect class="b" x="1790" y="4400.5" width="127" height="21"/><text class="t" x="1795" y="4414.6">(四)归纳总结——巩固新知</text></g>
<g id="f4a"><rect class="b" x="1938" y="4336.5" width="210" height="21"/><text class="t" x="1943" y="4350.6">为了将结论由特殊推广到一般引导学生思考：</text></g>
<g id="f4b"><rect class="b" x="1938" y="4464.5" width="170" height="21"/><text class="t" x="1943" y="4478.6">可由方程组的解的不同情况来判断：</text></g>
<g id="g1"><rect class="b" x="2128" y="4381.5" width="204" height="21"/><text class="t" x="2133" y="4395.6">当方程组有两组实数解时，直线l与圆C相交;</text></g>
<g id="g2"><rect class="b" x="2128" y="4426.5" width="204" height="21"/><text class="t" x="2133" y="4440.6">当方程组有一组实数解时，直线l与圆C相切;</text></g>
<g id="g3"><rect class="b" x="2128" y="4470.5" width="199" height="21"/><text class="t" x="2133" y="4484.6">当方程组没有实数解时，直线l与圆C相离。</text></g>
<g id="g4"><rect class="b" x="2128" y="4515" width="210" height="86"/><text class="t" y="4529.1"><tspan x="2133">活动：我将抽取两位同学在黑板上扮演，并在</tspan><tspan x="2133" dy="13">巡视过程中对部分学生加以指导。最后对黑板</tspan><tspan x="2133" dy="13">上的两名学生的解题过程加以分析完善。通过</tspan><tspan x="2133" dy="13">对基础题的练习，巩固两种判断直线与圆的位</tspan><tspan x="2133" dy="13">置关系判断方法，并使每一个学生获得后续学</tspan><tspan x="2133" dy="13">习的信心。</tspan></text></g>
<g id="F5"><rect class="b" x="1790" y="4675.5" width="67" height="21"/><text class="t" x="1795" y="4689.6">(五)小结作业</text></g>
<g id="F5c"><rect class="b" x="1873" y="4675.5" width="182" height="21"/><text class="t" x="1878" y="4689.6">在小结环节，我会以口头提问的方式：</text></g>
<g id="h1"><rect class="b" x="2075" y="4624" width="158" height="21"/><text class="t" x="2080" y="4638.2">(1)这节课学习的主要内容是什么?</text></g>
<g id="h2"><rect class="b" x="2075" y="4720.5" width="211" height="34"/><text class="t" y="4734.6"><tspan x="2080">(2)在数学问题的解决过程中运用了哪些数学</tspan><tspan x="2080" dy="13">思想?</tspan></text></g>
<g id="h2a"><rect class="b" x="2305" y="4669" width="215" height="47"/><text class="t" y="4683.1"><tspan x="2310">设计意图：启发式的课堂小结方式能让学生主</tspan><tspan x="2310" dy="13">动回顾本节课所学的知识点。也促使学生对知</tspan><tspan x="2310" dy="13">识网络进行主动建构。</tspan></text></g>
<g id="h2b"><rect class="b" x="2305" y="4739" width="215" height="86"/><text class="t" y="4753.1"><tspan x="2310">作业：在学生回顾本堂学习内容明确两种解题</tspan><tspan x="2310" dy="13">思路后，教师让学生对比两种解法，那种更简</tspan><tspan x="2310" dy="13">捷，明确本节课主要用比较d与r的关系来解</tspan><tspan x="2310" dy="13">决这类问题，对用方程组解的个数的判断方法</tspan><tspan x="2310" dy="13">，要求学生课外做进一步的探究，下一节课汇</tspan><tspan x="2310" dy="13">报。</tspan></text></g>
<g id="E7"><rect class="b" x="1701" y="4854.5" width="70" height="21"/><text class="t" x="1706" y="4868.6">七、板书设计</text></g>
<g id="e7"><rect class="b" x="1789" y="4849" width="211" height="34"/><text class="t" y="4863.1"><tspan x="1794">我的板书本着简介、直观、清晰的原则，这就</tspan><tspan x="1794" dy="13">是我的板书设计。</tspan></text></g>

<g id="related"><rect class="p" x="1488" y="5103" width="223" height="30" rx="15"/><text class="pt" x="1599.5" y="5122.5">高一数学教案范文模板相关文章：</text></g>
<g id="r1"><rect class="b" x="1731" y="4906.5" width="141" height="21"/><text class="t" x="1737" y="4920.6">★ 高一数学教案模板最新例文</text></g>
<g id="r2"><rect class="b" x="1731" y="4951.5" width="137" height="21"/><text class="t" x="1737" y="4965.6">★ 高一数学教案封面模板5篇</text></g>
<g id="r3"><rect class="b" x="1731" y="4995.5" width="141" height="21"/><text class="t" x="1737" y="5009.6">★ 高一数学教案免费最新模板</text></g>
<g id="r4"><rect class="b" x="1731" y="5040.5" width="151" height="21"/><text class="t" x="1737" y="5054.6">★ 高一数学教案及说课最新范文</text></g>
<g id="r5"><rect class="b" x="1731" y="5084.5" width="161" height="21"/><text class="t" x="1737" y="5098.6">★ 最新高一数学教案教学方法范文</text></g>
<g id="r6"><rect class="b" x="1731" y="5129.5" width="164" height="21"/><text class="t" x="1737" y="5143.6">★ 高一数学教案核心素养2021模板</text></g>
<g id="r7"><rect class="b" x="1731" y="5174.5" width="193" height="21"/><text class="t" x="1737" y="5188.6">★ 高一数学教案模板集合的运算2021文案</text></g>
<g id="r8"><rect class="b" x="1731" y="5218.5" width="161" height="21"/><text class="t" x="1737" y="5232.6">★ 高一数学教案课后反思最新模板</text></g>
<g id="r9"><rect class="b" x="1731" y="5263.5" width="150" height="21"/><text class="t" x="1737" y="5277.6">★ 高一数学教案去哪找最新模板</text></g>
<g id="r10"><rect class="b" x="1731" y="5308.5" width="165" height="21"/><text class="t" x="1737" y="5322.6">★ 高一数学教案检查反馈2021模板</text></g>

<g id="branch1"><rect class="p" x="1045" y="964" width="192" height="30" rx="15"/><text class="pt" x="1141" y="983.5">高一数学教案范文最新模板1</text></g>
<g id="G1"><rect class="b" x="974" y="710.5" width="50" height="21"/><text class="t" x="979" y="724.6">教学目标</text></g>
<g id="G2"><rect class="b" x="869" y="819" width="155" height="21"/><text class="t" x="874" y="833.2">1.使学生掌握的概念,图象和性质.</text></g>
<g id="g2a"><rect class="b" x="640" y="755" width="211" height="34"/><text class="t" y="769.1"><tspan x="645">(1)能根据定义判断形如什么样的函数是,了解</tspan><tspan x="645" dy="13">对底数的限制条件的合理性,明确的定义域.</tspan></text></g>
<g id="g2b"><rect class="b" x="640" y="813" width="211" height="34"/><text class="t" y="827.1"><tspan x="645">(2)能在基本性质的指导下,用列表描点法画出</tspan><tspan x="645" dy="13">的图象,能从数形两方面认识的性质.</tspan></text></g>
<g id="g2c"><rect class="b" x="640" y="871" width="211" height="34"/><text class="t" y="885.1"><tspan x="645">(3)能利用的性质比较某些幂形数的大小,会利</tspan><tspan x="645" dy="13">用的图象画出形如的图象.</tspan></text></g>
<g id="G3"><rect class="b" x="814" y="928.5" width="210" height="47"/><text class="t" y="942.6"><tspan x="819">2.通过对的概念图象性质的学习,培养学生观</tspan><tspan x="819" dy="13">察,分析归纳的能力,进一步体会数形结合的思</tspan><tspan x="819" dy="13">想方法.</tspan></text></g>
<g id="G4"><rect class="b" x="814" y="1213.5" width="210" height="47"/><text class="t" y="1227.6"><tspan x="819">3.通过对的研究,让学生认识到数学的应用价</tspan><tspan x="819" dy="13">值,激发学生学习数学的兴趣.使学生善于从现</tspan><tspan x="819" dy="13">实生活中数学的发现问题,解决问题.教学建议</tspan></text></g>
<g id="k1"><rect class="b" x="744" y="999.5" width="50" height="21"/><text class="t" x="749" y="1013.6">教材分析</text></g>
<g id="k2"><rect class="b" x="584" y="1044" width="210" height="86"/><text class="t" y="1058.1"><tspan x="589">(1)是在学生系统学习了函数概念,基本掌握了</tspan><tspan x="589" dy="13">函数的性质的基础上进行研究的,它是重要的</tspan><tspan x="589" dy="13">基本初等函数之一,作为常见函数,它既是函数</tspan><tspan x="589" dy="13">概念及性质的第一次应用,也是今后学习对数</tspan><tspan x="589" dy="13">函数的基础,同时在生活及生产实际中有着广</tspan><tspan x="589" dy="13">泛的应用,所以应重点研究.</tspan></text></g>
<g id="k3"><rect class="b" x="584" y="1152.5" width="210" height="47"/><text class="t" y="1166.6"><tspan x="589">(2)本节的教学重点是在理解定义的基础上掌</tspan><tspan x="589" dy="13">握的图象和性质.难点是对底数在和时,函数值</tspan><tspan x="589" dy="13">变化情况的区分.</tspan></text></g>
<g id="k4"><rect class="b" x="584" y="1223.5" width="210" height="99"/><text class="t" y="1237.6"><tspan x="589">(3)是学生完全陌生的一类函数,对于这样的函</tspan><tspan x="589" dy="13">数应怎样进行较为系统的理论研究是学生面临</tspan><tspan x="589" dy="13">的重要问题,所以从的研究过程中得到相应的</tspan><tspan x="589" dy="13">结论固然重要,但更为重要的是要了解系统研</tspan><tspan x="589" dy="13">究一类函数的方法,所以在教学中要特别让学</tspan><tspan x="589" dy="13">生去体会研究的方法,以便能将其迁移到其他</tspan><tspan x="589" dy="13">函数的研究.</tspan></text></g>
<g id="k4l"><rect class="b" x="513" y="1262.5" width="50" height="21"/><text class="t" x="518" y="1276.6">教法建议</text></g>
<g id="k5"><rect class="b" x="584" y="1345.5" width="210" height="47"/><text class="t" y="1359.6"><tspan x="589">(1)关于的定义按照课本上说法它是一种形式</tspan><tspan x="589" dy="13">定义即解析式的特征必须是的样子,不能有一</tspan><tspan x="589" dy="13">点差异,诸如,等都不是.</tspan></text></g>
<g id="k6"><rect class="b" x="584" y="1416" width="210" height="99"/><text class="t" y="1430.1"><tspan x="589">(2)对底数的限制条件的理解与认识也是认识</tspan><tspan x="589" dy="13">的重要内容.如果有可能尽量让学生自己去研</tspan><tspan x="589" dy="13">究对底数,指数都有什么限制要求,教师再给予</tspan><tspan x="589" dy="13">补充或用具体例子加以说明,因为对这个条件</tspan><tspan x="589" dy="13">的认识不仅关系到对的认识及性质的分类讨论</tspan><tspan x="589" dy="13">,还关系到后面学习对数函数中底数的认识,所</tspan><tspan x="589" dy="13">以一定要真正了解它的由来.</tspan></text></g>
<g id="k6l"><rect class="b" x="352" y="1416" width="211" height="99"/><text class="t" y="1430.1"><tspan x="357">关于图象的绘制,虽然是用列表描点法,但在具</tspan><tspan x="357" dy="13">体教学中应避免描点前的盲目列表计算,也应</tspan><tspan x="357" dy="13">避免盲目的连点成线,要把表列在关键之处,要</tspan><tspan x="357" dy="13">把点连在恰当之处,所以应在列表描点前先把</tspan><tspan x="357" dy="13">函数的性质作一些简单的讨论,取得对要画图</tspan><tspan x="357" dy="13">象的存在范围,大致特征,变化趋势的大概认识</tspan><tspan x="357" dy="13">后,以此为指导再列表计算,描点得图象.</tspan></text></g>

<g id="branch3"><rect class="p" x="1045" y="1925" width="192" height="30" rx="15"/><text class="pt" x="1141" y="1944.5">高一数学教案范文最新模板3</text></g>
<g id="H1"><rect class="b" x="970" y="1538.5" width="50" height="21"/><text class="t" x="975" y="1552.6">教学目标</text></g>
<g id="H2"><rect class="b" x="892" y="1582.5" width="128" height="21"/><text class="t" x="897" y="1596.6">1.使学生了解反函数的概念;</text></g>
<g id="H3"><rect class="b" x="852" y="1627.5" width="168" height="21"/><text class="t" x="857" y="1641.6">2.使学生会求一些简单函数的反函数;</text></g>
<g id="H4"><rect class="b" x="813" y="1673" width="207" height="34"/><text class="t" y="1687.1"><tspan x="818">3.培养学生用辩证的观点观察、分析解决问题</tspan><tspan x="818" dy="13">的能力。</tspan></text></g>
<g id="H4l"><rect class="b" x="742" y="1679.5" width="50" height="21"/><text class="t" x="747" y="1693.6">教学重点</text></g>
<g id="H5"><rect class="b" x="938" y="1730" width="82" height="21"/><text class="t" x="943" y="1744.2">1.反函数的概念;</text></g>
<g id="H6"><rect class="b" x="933" y="2323.5" width="87" height="21"/><text class="t" x="938" y="2337.6">2.反函数的求法。</text></g>
<g id="i1"><rect class="b" x="866" y="1774.5" width="50" height="21"/><text class="t" x="871" y="1788.6">教学难点</text></g>
<g id="i2"><rect class="b" x="836" y="1819.5" width="80" height="21"/><text class="t" x="841" y="1833.6">反函数的概念。</text></g>
<g id="i3"><rect class="b" x="866" y="1864" width="50" height="21"/><text class="t" x="871" y="1878.2">教学方法</text></g>
<g id="i4"><rect class="b" x="846" y="1908.5" width="70" height="21"/><text class="t" x="851" y="1922.6">师生共同讨论</text></g>
<g id="i5"><rect class="b" x="866" y="1953.5" width="50" height="21"/><text class="t" x="871" y="1967.6">教具装备</text></g>
<g id="i6"><rect class="b" x="860" y="1998" width="56" height="21"/><text class="t" x="865" y="2012.2">幻灯片2张</text></g>
<g id="i7"><rect class="b" x="706" y="2042.5" width="210" height="34"/><text class="t" y="2056.6"><tspan x="711">第一张：反函数的定义、记法、习惯记法。(</tspan><tspan x="711" dy="13">记作A);</tspan></text></g>
<g id="i8"><rect class="b" x="716" y="2872" width="200" height="21"/><text class="t" x="721" y="2886.2">第二张：本课时作业中的预习内容及提纲。</text></g>
<g id="j1"><rect class="b" x="646" y="2099.5" width="50" height="21"/><text class="t" x="651" y="2113.6">教学过程</text></g>
<g id="j2"><rect class="b" x="637" y="2145" width="59" height="21"/><text class="t" x="642" y="2159.3">(I)讲授新课</text></g>
<g id="j3"><rect class="b" x="619" y="2189.5" width="77" height="21"/><text class="t" x="624" y="2203.6">(检查预习情况)</text></g>
<g id="j4"><rect class="b" x="485" y="2234.5" width="211" height="34"/><text class="t" y="2248.6"><tspan x="490">师：这节课我们来学习反函数(板书课题)§2.4.</tspan><tspan x="490" dy="13">1反函数的概念。</tspan></text></g>
<g id="j5"><rect class="b" x="485" y="2291.5" width="211" height="47"/><text class="t" y="2305.6"><tspan x="490">同学们已经进行了预习，对反函数的概念有了</tspan><tspan x="490" dy="13">初步的了解，谁来复述一下反函数的定义、记</tspan><tspan x="490" dy="13">法、习惯记法?</tspan></text></g>
<g id="j6"><rect class="b" x="649" y="2362" width="47" height="21"/><text class="t" x="654" y="2376.1">生：(略)</text></g>
<g id="j7"><rect class="b" x="542" y="2406.5" width="154" height="21"/><text class="t" x="547" y="2420.6">(学生回答之后，打出幻灯片A)。</text></g>
<g id="j8"><rect class="b" x="536" y="2612.5" width="160" height="21"/><text class="t" x="541" y="2626.6">师：反函数的定义着重强调两点：</text></g>
<g id="j8a"><rect class="b" x="306" y="2451" width="210" height="34"/><text class="t" y="2465.1"><tspan x="311">(1)根据y=f(x)中x与y的关系，用y把x表示出</tspan><tspan x="311" dy="13">来，得到x=φ(y);</tspan></text></g>
<g id="j8b"><rect class="b" x="306" y="2761.5" width="210" height="34"/><text class="t" y="2775.6"><tspan x="311">(2)对于y在c中的任一个值，通过x=φ(y)，x在</tspan><tspan x="311" dy="13">A中都有惟一的值和它对应。</tspan></text></g>
<g id="j9"><rect class="b" x="485" y="3198.5" width="211" height="34"/><text class="t" y="3212.6"><tspan x="490">从反函数的概念我们还可以知道，求函数的反</tspan><tspan x="490" dy="13">函数的方法步骤为：</tspan></text></g>
<g id="j9a"><rect class="b" x="253" y="3078.5" width="212" height="21"/><text class="t" x="258" y="3092.6">(1)由y=f(x)解出x=f-1(y)，即把x用y表示出;</text></g>
<g id="j9b"><rect class="b" x="255" y="3124" width="210" height="34"/><text class="t" y="3138.1"><tspan x="260">(2)将x=f-1(y)改写成y=f-1(x)，即对调x=f-1</tspan><tspan x="260" dy="13">(y)中的x、y。</tspan></text></g>
<g id="j9c"><rect class="b" x="345" y="3331" width="120" height="21"/><text class="t" x="350" y="3345.3">(3)指出反函数的定义域。</text></g>
<g id="j10"><rect class="b" x="556" y="3644.5" width="140" height="21"/><text class="t" x="561" y="3658.6">课题：求反函数的方法步骤：</text></g>
<g id="m1"><rect class="b" x="459" y="3533" width="77" height="21"/><text class="t" x="464" y="3547.3">定义：(幻灯片)</text></g>
<g id="m2"><rect class="b" x="476" y="3578" width="60" height="21"/><text class="t" x="481" y="3592">注意：小结</text></g>
<g id="m3"><rect class="b" x="456" y="3622.5" width="80" height="21"/><text class="t" x="461" y="3636.6">——映射确定的</text></g>
<g id="m4"><rect class="b" x="456" y="3667" width="80" height="21"/><text class="t" x="461" y="3681.3">函数才有反函数</text></g>
<g id="m5"><rect class="b" x="456" y="3711.5" width="80" height="21"/><text class="t" x="461" y="3725.6">函数与它的反函</text></g>
<g id="m6"><rect class="b" x="416" y="3756" width="120" height="21"/><text class="t" x="421" y="3770.1">数定义域、值域的关系。</text></g>

<g id="branch5"><rect class="p" x="1045" y="4183" width="192" height="30" rx="15"/><text class="pt" x="1141" y="4202.5">高一数学教案范文最新模板5</text></g>
<g id="K1"><rect class="b" x="960" y="3920.5" width="60" height="21"/><text class="t" x="965" y="3934.6">教学目标：</text></g>
<g id="K1a"><rect class="b" x="734" y="3801.5" width="210" height="73"/><text class="t" y="3815.6"><tspan x="739">(1)知识与技能：了解集合的含义，理解并掌</tspan><tspan x="739" dy="13">握元素与集合的“属于”关系、集合中元素的三</tspan><tspan x="739" dy="13">个特性，识记数学中一些常用的的数集及其记</tspan><tspan x="739" dy="13">法，能选择自然语言、列举法和描述法表示集</tspan><tspan x="739" dy="13">合。</tspan></text></g>
<g id="K1b"><rect class="b" x="734" y="3897.5" width="210" height="73"/><text class="t" y="3911.6"><tspan x="739">(2)过程与方法：从圆、线段的垂直平分线的</tspan><tspan x="739" dy="13">定义引出“集合”一词，通过探讨一系列的例子</tspan><tspan x="739" dy="13">形成集合的概念，举例剖析集合中元素的三个</tspan><tspan x="739" dy="13">特性，探讨元素与集合的关系，比较用自然语</tspan><tspan x="739" dy="13">言、列举法和描述法表示集合。</tspan></text></g>
<g id="K1c"><rect class="b" x="734" y="3993.5" width="210" height="60"/><text class="t" y="4007.6"><tspan x="739">(3)情感态度与价值观：感受集合语言的意义</tspan><tspan x="739" dy="13">和作用，培养合作交流、勤于思考、积极探讨</tspan><tspan x="739" dy="13">的精神，发展用严密谨慎的集合语言描述问题</tspan><tspan x="739" dy="13">的习惯。</tspan></text></g>
<g id="K2"><rect class="b" x="950" y="4115.5" width="70" height="21"/><text class="t" x="955" y="4129.6">教学重难点：</text></g>
<g id="K2a"><rect class="b" x="724" y="4077.5" width="210" height="34"/><text class="t" y="4091.6"><tspan x="729">(1)重点：了解集合的含义与表示、集合中元</tspan><tspan x="729" dy="13">素的特性。</tspan></text></g>
<g id="K2b"><rect class="b" x="724" y="4134.5" width="210" height="47"/><text class="t" y="4148.6"><tspan x="729">(2)难点：区别集合与元素的概念及其相应的</tspan><tspan x="729" dy="13">符号，理解集合与元素的关系，表示具体的集</tspan><tspan x="729" dy="13">合时，如何从列举法与描述法中做出选择。</tspan></text></g>
<g id="K3"><rect class="b" x="960" y="4455.5" width="60" height="21"/><text class="t" x="965" y="4469.6">教学过程：</text></g>
<g id="q1"><rect class="b" x="734" y="4206" width="210" height="47"/><text class="t" y="4220.2"><tspan x="739">【问题1】在初中我们已经学习了圆、线段的</tspan><tspan x="739" dy="13">垂直平分线，大家回忆一下教材中是如何对它</tspan><tspan x="739" dy="13">们进行定义的?</tspan></text></g>
<g id="q1l"><rect class="b" x="578" y="4219" width="136" height="21"/><text class="t" x="583" y="4233.2">[设计意图]引出“集合”一词。</text></g>
<g id="q2"><rect class="b" x="734" y="4277" width="210" height="34"/><text class="t" y="4291.1"><tspan x="739">【问题2】同学们知道什么是集合吗?请大家</tspan><tspan x="739" dy="13">思考讨论课本第2页的思考题。</tspan></text></g>
<g id="q2l"><rect class="b" x="548" y="4283.5" width="166" height="21"/><text class="t" x="553" y="4297.6">[设计意图]探讨并形成集合的含义。</text></g>
<g id="q3"><rect class="b" x="737" y="4347.5" width="207" height="21"/><text class="t" x="742" y="4361.6">【问题3】请同学们举出认为是集合的例子。</text></g>
<g id="q3l"><rect class="b" x="508" y="4334.5" width="210" height="47"/><text class="t" y="4348.6"><tspan x="513">[设计意图]点评学生举出的例子，剖析并强调</tspan><tspan x="513" dy="13">集合中元素的三大特性：确定性、互异性、无</tspan><tspan x="513" dy="13">序性。</tspan></text></g>
<g id="q4"><rect class="b" x="734" y="4411" width="210" height="34"/><text class="t" y="4425.1"><tspan x="739">【问题4】同学们知道用什么来表示一个集合</tspan><tspan x="739" dy="13">，一个元素吗?集合与元素之间有怎样的关系?</tspan></text></g>
<g id="q4l"><rect class="b" x="504" y="4405" width="210" height="47"/><text class="t" y="4419.2"><tspan x="509">[设计意图]区别表示集合与元素的的符号，介</tspan><tspan x="509" dy="13">绍集合中一些常用的的数集及其记法，理解集</tspan><tspan x="509" dy="13">合与元素的关系。</tspan></text></g>
<g id="q5"><rect class="b" x="734" y="4475" width="210" height="47"/><text class="t" y="4489.4"><tspan x="739">【问题5】“地球上的四大洋”组成的集合可以</tspan><tspan x="739" dy="13">表示为{太平洋、大西洋、印度洋、北冰洋}，</tspan><tspan x="739" dy="13">“方程(x-1)(x+2)=0的所有实数根”组成的集</tspan></text></g>
<g id="q5l"><rect class="b" x="563" y="4488" width="146" height="21"/><text class="t" x="568" y="4502.1">[设计意图]引出并介绍列举法。</text></g>
<g id="q6"><rect class="b" x="734" y="4546" width="210" height="34"/><text class="t" y="4560.1"><tspan x="739">【问题6】例1的讲解。同学们能用列举法表</tspan><tspan x="739" dy="13">示不等式x-7&lt;3的解集吗?</tspan></text></g>
<g id="q7"><rect class="b" x="734" y="4603" width="210" height="34"/><text class="t" y="4617.1"><tspan x="739">【问题7】例2的讲解。请同学们思考课本第6</tspan><tspan x="739" dy="13">页的思考题。</tspan></text></g>
<g id="q7l"><rect class="b" x="504" y="4603" width="210" height="34"/><text class="t" y="4617.1"><tspan x="509">[设计意图]帮助学生在表示具体的集合时，如</tspan><tspan x="509" dy="13">何从列举法与描述法中做出选择。</tspan></text></g>
<g id="q8"><rect class="b" x="734" y="4686.7" width="210" height="34"/><text class="t" y="4700.8"><tspan x="739">【问题8】请同学们总结这节课我们主要学习</tspan><tspan x="739" dy="13">了那些内容?有什么学习体会?</tspan></text></g>
<g id="q8a"><rect class="b" x="504" y="4661" width="210" height="34"/><text class="t" y="4675.1"><tspan x="509">[设计意图]学习小结。对本节课所学知识进行</tspan><tspan x="509" dy="13">回顾。</tspan></text></g>
<g id="q8b"><rect class="b" x="654" y="4718.5" width="60" height="21"/><text class="t" x="659" y="4732.6">布置作业。</text></g>

<g id="watermarks">
<text class="w" transform="translate(385,705) rotate(-28)"><tspan font-size="86">树图</tspan><tspan font-size="124"> shutu.cn</tspan></text>
<text class="w" transform="translate(1655,705) rotate(-28)"><tspan font-size="86">树图</tspan><tspan font-size="124"> shutu.cn</tspan></text>
<text class="w" transform="translate(385,1705) rotate(-28)"><tspan font-size="86">树图</tspan><tspan font-size="124"> shutu.cn</tspan></text>
<text class="w" transform="translate(1655,1705) rotate(-28)"><tspan font-size="86">树图</tspan><tspan font-size="124"> shutu.cn</tspan></text>
<text class="w" transform="translate(385,2705) rotate(-28)"><tspan font-size="86">树图</tspan><tspan font-size="124"> shutu.cn</tspan></text>
<text class="w" transform="translate(1655,2705) rotate(-28)"><tspan font-size="86">树图</tspan><tspan font-size="124"> shutu.cn</tspan></text>
<text class="w" transform="translate(385,3705) rotate(-28)"><tspan font-size="86">树图</tspan><tspan font-size="124"> shutu.cn</tspan></text>
<text class="w" transform="translate(1655,3705) rotate(-28)"><tspan font-size="86">树图</tspan><tspan font-size="124"> shutu.cn</tspan></text>
<text class="w" transform="translate(385,4705) rotate(-28)"><tspan font-size="86">树图</tspan><tspan font-size="124"> shutu.cn</tspan></text>
<text class="w" transform="translate(1655,4705) rotate(-28)"><tspan font-size="86">树图</tspan><tspan font-size="124"> shutu.cn</tspan></text>
</g>
</g>
</svg>
